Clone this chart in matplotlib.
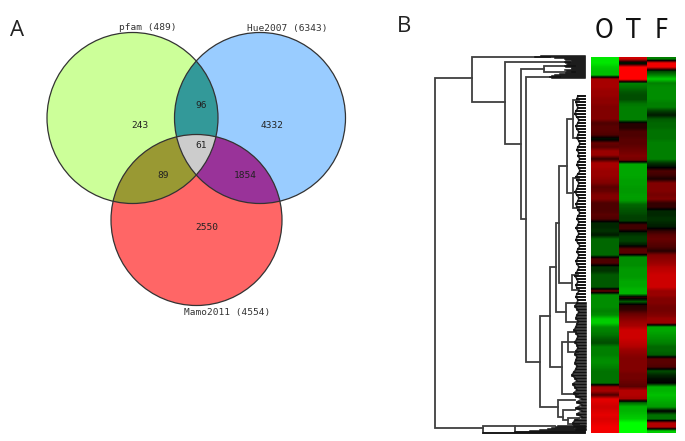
import numpy as np
import matplotlib
matplotlib.use('Agg')
import matplotlib.pyplot as plt
from matplotlib.colors import LinearSegmentedColormap

# venn: name, circle centre/radius (px)
set_names = ['pfam (489)', 'Hue2007 (6343)', 'Mamo2011 (4554)']
set_x = [132.5, 260, 196.5]
set_y = [118, 118, 220]
set_r = [85.5, 85.5, 85.5]
label_x = [148, 287, 227]
label_y = [28, 28, 313]

region_members = [(0,), (1,), (2,), (0, 1), (0, 2), (1, 2), (0, 1, 2)]
region_colors = ['#CCFF99', '#99CCFF', '#FF6666', '#339999', '#999933', '#993399', '#CCCCCC']
region_counts = ['243', '4332', '2550', '96', '89', '1854', '61']
count_x = [140, 272, 207, 201, 163, 245, 201]
count_y = [125, 125, 227, 106, 176, 176, 146]

# heatmap rows, top to bottom (+ red, - green)
col_names = ['O', 'T', 'F']
col_O = [-.9, -.9, -.8, -.75, -.75,
         .65, .65, .65, .6, .6, .55, .55, .5, .5, .5, .5,
         .3, .35, .35, .3, -.1, .4, .35, .6, .6, .2,
         .65, .65, .6, .6, .55, .5, .35, .4, .5, .5,
         .3, .3, .3, .35, .3, -.15, -.15,
         -.2, -.1, -.4, -.4, -.4, -.4, -.4, .3, .3, -.2, -.2, -.35, -.35, -.35, -.35, .4,
         -.55, -.55, -.55, -.55, -.5, -.55, -.8, -.8, -.55, -.5, -.45, -.35, -.3,
         -.5, -.5, -.5, -.55, -.55, -.5, -.45, -.45, -.45, -.45,
         .6, .65, .3, .9, .85, .8, .85, .9, .85, .9, .95, .95]
col_T = [.8, -.2, 1, 1, 1, 1,
         -.5, -.45, -.35, -.3, -.3, -.45, -.5, -.5, -.5, -.5,
         .15, .15, .3, .3, .35, .35, .4, .45, .5, .45,
         -.65, -.65, -.65, -.65, -.62, -.62, -.6, -.6, -.62, -.6,
         -.4, -.35, -.3, -.25, -.25, .25, .25,
         -.15, -.25, -.25, -.1, .35, .35,
         -.55, -.55, -.55, -.6, -.6, -.6, -.65, -.65, -.7, -.7,
         .15, -.35, .15, .2, .4, .5, .6, .65,
         .8, .8, .8, .75, .7, .6, .55, .5, .5, .5, .5, .45, .45, .4, .35,
         .7, .7, .65, -.4, -.7, -.7, -.75, -.8, -1, -1, -1]
col_F = [-.5, .95, .95, -.25, -.5, -.8,
         -.5, -.55, -.55, -.55, -.55, -.5, -.5, -.25, -.1, -.35,
         -.4, -.4, -.45, -.45, -.45, -.5, -.5, -.5, -.5, -.5,
         -.2, -.05, .3, .25, .1, .5, .5, .5, .45, .5,
         .2, .2, -.15, -.15, -.2, -.15, -.1,
         .2, .35, .4, .35, .3, .15,
         .5, .55, .6, .7, .75, .8, .8, .8, .8,
         .6, .6, .5, .5, .45, .45, .5, .6, .6,
         -.65, -.65, -.6, -.55, -.5, -.4, -.4, -.35,
         .35, .35, .3, -.3, -.15, -.05, 0,
         -.7, -.7, -.75, -.7, -.65, -.6, 0, -.45, -.45, .7, .7, -.8]

# dendrogram links: node x, top y, bottom y, where the two arms end
link_x = [435, 472, 505, 521, 526, 544, 540, 550, 556, 559, 567, 573, 573, 572, 566,
          562, 568, 558, 563, 568, 483, 515]
link_top = [78, 57, 62, 69, 77, 66, 316, 267, 223, 166, 119, 100, 178, 275, 303,
            342, 332, 400, 410, 418, 426, 425.5]
link_bot = [428, 102, 144, 219, 362, 72, 407, 367, 312, 283, 193, 138, 208, 290, 322,
            394, 352, 417, 420, 424, 433, 432]
link_top_end = [472, 550, 570, 544, 560, 575, 550, 556, 559, 567, 573, 579, 579, 578, 576,
                575, 576, 575, 575, 579, 515, 555]
link_bot_end = [483, 505, 521, 526, 540, 575, 558, 562, 566, 572, 573, 579, 579, 579, 578,
                578, 578, 563, 568, 579, 585, 585]

# rows of the solid blocks at the top and foot of the tree
block_y = [56, 57, 58, 59, 60, 61, 62, 63, 64, 65, 66, 67, 68, 69, 70, 71, 72, 73, 74, 75, 76, 77, 78,
           426, 427, 428, 429, 430, 431, 432, 433]
block_start = [541, 535, 555, 565, 566, 572, 565, 566, 568, 567, 565, 566, 572, 572, 565, 567, 572,
               566, 560, 555, 552, 550, 552,
               558, 556, 552, 548, 540, 530, 515, 483]

# fine leaf chain down the tree, one entry per 3 px
twig_start_y = 96
twig_x = [578, 577, 576, 577, 578, 576, 575, 577, 579, 578, 576, 577, 579, 578, 577, 579, 580, 578,
          577, 579, 578, 580, 578, 577, 579, 580, 578, 576, 577, 579, 578, 577, 575, 577, 579, 578,
          576, 577, 578, 580, 578, 577, 579, 578, 576, 578, 579, 577, 576, 578, 580, 578, 577, 579,
          578, 576, 577, 579, 578, 576, 575, 577, 578, 576, 577, 579, 577, 576, 578, 577, 575, 577,
          579, 577, 576, 578, 577, 576, 574, 576, 578, 577, 575, 577, 578, 576, 575, 577, 576, 575,
          577, 576, 574, 572, 575, 577, 573, 575, 577, 574, 576, 582, 577, 582, 576, 582, 577, 582,
          575, 573, 574, 576]
twig_end = 585
dense_from_y = 300

line_col = '#3f3f3f'


def region_polygon(members):
    # boundary of the convex piece shared by the member circles
    pts = []
    t = np.linspace(0, 2 * np.pi, 720)
    for m in members:
        px = set_x[m] + set_r[m] * np.cos(t)
        py = set_y[m] + set_r[m] * np.sin(t)
        keep = np.ones_like(t, dtype=bool)
        for o in members:
            if o != m:
                keep &= (px - set_x[o]) ** 2 + (py - set_y[o]) ** 2 <= set_r[o] ** 2
        pts.append(np.column_stack([px[keep], py[keep]]))
    pts = np.vstack(pts)
    c = pts.mean(axis=0)
    order = np.argsort(np.arctan2(pts[:, 1] - c[1], pts[:, 0] - c[0]))
    return pts[order]


fig = plt.figure(figsize=(6.85, 4.41), dpi=100)
ax = fig.add_axes([0, 0, 1, 1])

# venn
for members, color in zip(region_members, region_colors):
    poly = region_polygon(members)
    ax.fill(poly[:, 0], poly[:, 1], color=color, lw=0, zorder=2 + len(members))
for x, y, r in zip(set_x, set_y, set_r):
    ax.add_patch(plt.Circle((x, y), r, fill=False, ec='#333333', lw=0.9, zorder=6))
for name, x, y in zip(set_names, label_x, label_y):
    ax.text(x, y, name, family='DejaVu Sans Mono', fontsize=6.8, color='#333333',
            ha='center', va='center', zorder=7)
for s, x, y in zip(region_counts, count_x, count_y):
    ax.text(x, y, s, family='DejaVu Sans Mono', fontsize=6.8, color='#222222',
            ha='center', va='center', zorder=7)

# heatmap
cmap = LinearSegmentedColormap.from_list('gkr', ['#00ff00', '#000000', '#ff0000'])
for values, left in zip([col_O, col_T, col_F], [591, 619.5, 647.5]):
    ax.imshow(np.array(values)[:, None], cmap=cmap, vmin=-1, vmax=1, aspect='auto',
              interpolation='bilinear', extent=(left, left + 28.5, 433, 57), zorder=2)

# dendrogram
for x, top, bot, top_end, bot_end in zip(link_x, link_top, link_bot, link_top_end, link_bot_end):
    ax.plot([top_end, x, x, bot_end], [top, top, bot, bot], color=line_col, lw=1.3,
            solid_joinstyle='miter', zorder=3)
for y, x0 in zip(block_y, block_start):
    ax.plot([x0, twig_end], [y, y], color='#111111', lw=1.1, zorder=3)
twig_y = twig_start_y + 3 * np.arange(len(twig_x))
ax.plot(twig_x, twig_y, color=line_col, lw=1.3, zorder=3)
for x, y in zip(twig_x, twig_y):
    ax.plot([x, twig_end], [y, y], color='#111111', lw=1.9 if y > dense_from_y else 1.4, zorder=3)

# panel letters and column heads
ax.text(17, 30, 'A', family='Open Sans', fontsize=16, color='#222222', ha='center', va='center')
ax.text(404, 27, 'B', family='Open Sans', fontsize=16, color='#222222', ha='center', va='center')
for name, x in zip(col_names, [604, 633, 662]):
    ax.text(x, 31, name, family='DejaVu Sans', stretch='condensed', fontsize=19,
            color='#111111', ha='center', va='center')

ax.set_xlim(0, 685)
ax.set_ylim(441, 0)
ax.axis('off')
fig.savefig('out.png', dpi=100)
